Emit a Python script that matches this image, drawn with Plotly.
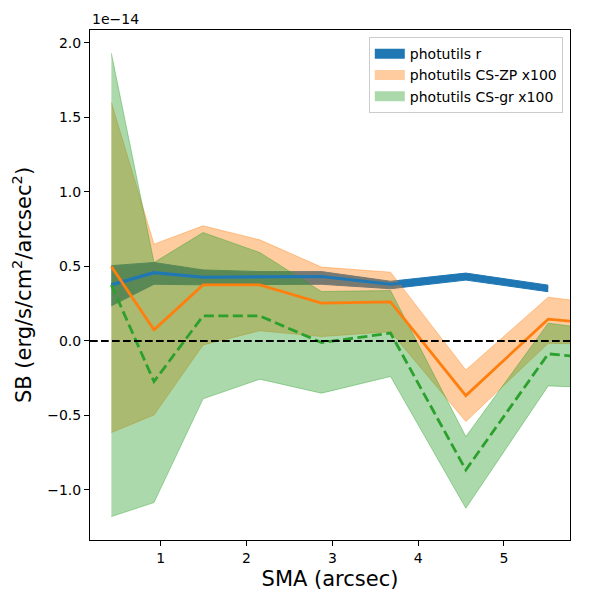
import plotly.graph_objects as go

# SMA positions (arcsec)
sma = [0.424, 0.921, 1.493, 2.154, 2.873, 3.678, 4.556, 5.516]
sma_cs = [0.424, 0.921, 1.493, 2.154, 2.873, 3.678, 4.556, 5.516, 6.57]

# surface brightness in units of 1e-14 erg/s/cm^2/arcsec^2
r_mid = [0.376, 0.458, 0.427, 0.427, 0.432, 0.380, 0.432, 0.352]
r_lo = [0.235, 0.380, 0.376, 0.376, 0.380, 0.350, 0.408, 0.330]
r_hi = [0.505, 0.526, 0.476, 0.465, 0.465, 0.400, 0.455, 0.374]

zp_mid = [0.499, 0.074, 0.376, 0.376, 0.253, 0.262, -0.367, 0.146, 0.088]
zp_lo = [-0.615, -0.497, -0.027, 0.068, 0.029, 0.062, -0.541, -0.016, -0.030]
zp_hi = [1.600, 0.649, 0.772, 0.678, 0.495, 0.461, -0.195, 0.293, 0.218]

gr_mid = [0.376, -0.273, 0.168, 0.168, -0.011, 0.052, -0.866, -0.087, -0.141]
gr_lo = [-1.179, -1.085, -0.389, -0.257, -0.351, -0.239, -1.123, -0.302, -0.323]
gr_hi = [1.930, 0.526, 0.727, 0.593, 0.331, 0.338, -0.642, 0.119, 0.040]

labels = ["photutils r", "photutils CS-ZP x100", "photutils CS-gr x100"]
y_ticks = [-1.0, -0.5, 0.0, 0.5, 1.0, 1.5, 2.0]
x_ticks = [1, 2, 3, 4, 5]

C0 = "#1f77b4"
C1 = "#ff7f0e"
C2 = "#2ca02c"
C1a = "rgba(255,127,14,0.4)"
C2a = "rgba(44,160,44,0.4)"
FONT = "DejaVu Sans"

fig = go.Figure()

def band(x, lo, hi, fillcol, edgecol, edgew):
    fig.add_trace(go.Scatter(x=x, y=lo, mode="lines",
                             line=dict(color=edgecol, width=edgew),
                             showlegend=False, hoverinfo="skip"))
    fig.add_trace(go.Scatter(x=x, y=hi, mode="lines", fill="tonexty",
                             fillcolor=fillcol,
                             line=dict(color=edgecol, width=edgew),
                             showlegend=False, hoverinfo="skip"))

band(sma, r_lo, r_hi, C0, C0, 1)
band(sma_cs, zp_lo, zp_hi, C1a, C1a, 1)
band(sma_cs, gr_lo, gr_hi, C2a, C2a, 1)

fig.add_trace(go.Scatter(x=sma, y=r_mid, mode="lines",
                         line=dict(color=C0, width=3.2), showlegend=False))
fig.add_trace(go.Scatter(x=sma_cs, y=zp_mid, mode="lines",
                         line=dict(color=C1, width=2.8), showlegend=False))
fig.add_trace(go.Scatter(x=sma_cs, y=gr_mid, mode="lines",
                         line=dict(color=C2, width=2.8, dash="10px,4.5px"),
                         showlegend=False))

# legend entries (patch-like swatches)
for lab, col in zip(labels, [C0, C1a, C2a]):
    fig.add_trace(go.Scatter(x=[None], y=[None], mode="lines", name=lab,
                             line=dict(color=col, width=10)))

fig.add_hline(y=0, line=dict(color="black", width=2, dash="7.7px,3.3px"))

fig.add_annotation(text="1e\u221214", xref="paper", yref="paper", x=0, y=1,
                   xanchor="left", yanchor="bottom", yshift=1, showarrow=False,
                   font=dict(family=FONT, size=14, color="black"))

axis_common = dict(showline=True, mirror=True, linecolor="black", linewidth=1,
                   ticks="outside", ticklen=5, tickwidth=1, tickcolor="black",
                   showgrid=False, zeroline=False,
                   tickfont=dict(family=FONT, size=14, color="black"))

fig.update_layout(
    width=592, height=592,
    margin=dict(l=82, r=30, t=22, b=60),
    paper_bgcolor="white", plot_bgcolor="white",
    font=dict(family=FONT, size=14, color="black"),
    xaxis=dict(range=[0.175, 5.77], tickvals=x_ticks,
               title=dict(text="SMA (arcsec)", font=dict(family=FONT, size=21), standoff=6),
               **axis_common),
    yaxis=dict(range=[-1.336, 2.086], tickvals=y_ticks, tickformat=".1f",
               title=dict(text="SB (erg/s/cm<sup>2</sup>/arcsec<sup>2</sup>)",
                          font=dict(family=FONT, size=21), standoff=12),
               **axis_common),
    legend=dict(x=0.985, y=0.986, xanchor="right", yanchor="top", traceorder="normal",
                bgcolor="rgba(255,255,255,0.8)", bordercolor="#cccccc", borderwidth=1,
                font=dict(family=FONT, size=14), itemwidth=30, tracegroupgap=0),
    showlegend=True,
)

fig.write_html("out.html")
